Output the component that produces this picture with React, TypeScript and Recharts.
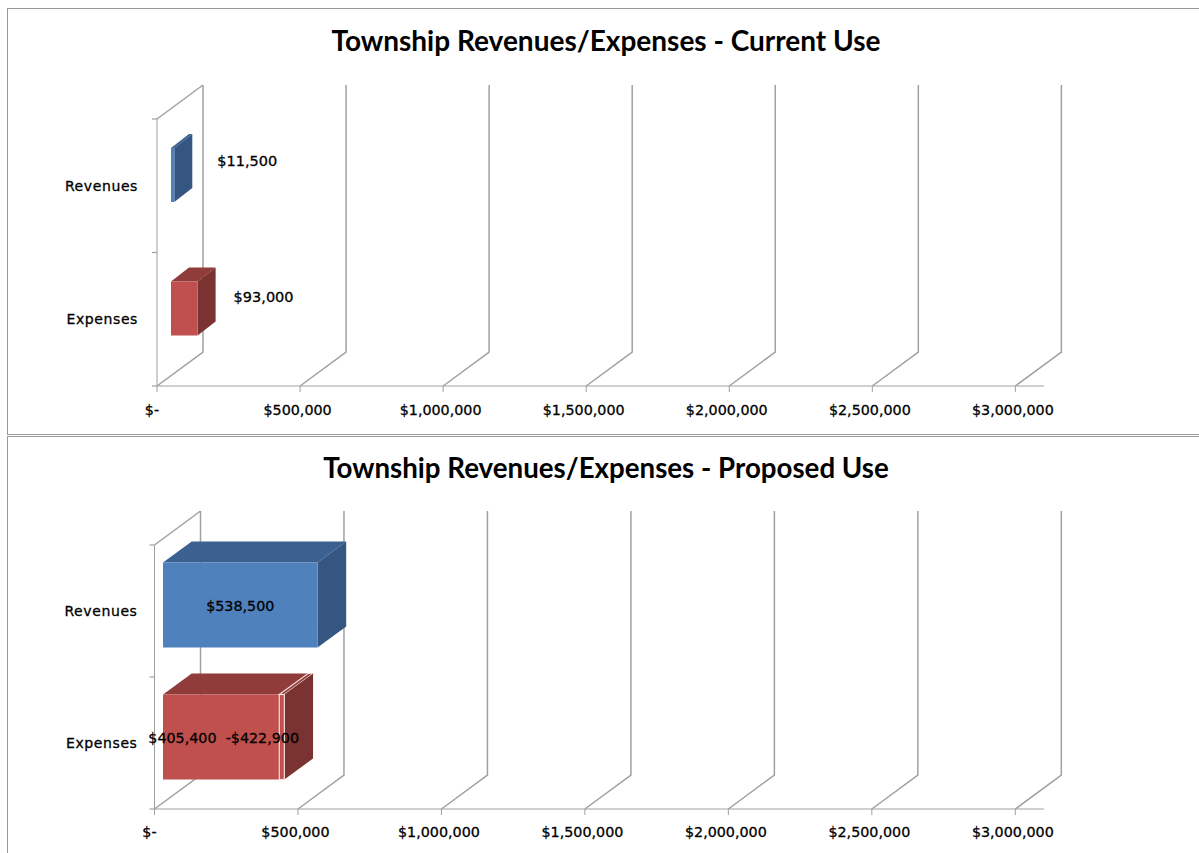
import React from 'react';
import { BarChart, Bar, XAxis, YAxis, CartesianGrid, LabelList } from 'recharts';

const categories = ['Revenues', 'Expenses'];
const currentValues = [11500, 93000];
const currentLabels = ['$11,500', '$93,000'];
const proposedValues = [538500, 405400];
const proposedExtra = [0, 17500];
const proposedLabels = ['$538,500', '$405,400  -$422,900'];
const xTicks = [0, 500000, 1000000, 1500000, 2000000, 2500000, 3000000];
const xTickLabels = ['$-', '$500,000', '$1,000,000', '$1,500,000', '$2,000,000', '$2,500,000', '$3,000,000'];

const currentRows = categories.map((category, i) => ({ category, value: currentValues[i], label: currentLabels[i] }));
const proposedRows = categories.map((category, i) => ({
  category,
  value: proposedValues[i],
  extra: proposedExtra[i],
  label: proposedLabels[i],
}));

const GRID = '#a0a0a0';
const FONT = '"DejaVu Sans", sans-serif';
const FACES = [
  { front: '#4f81bd', top: '#3b6190', side: '#345680' },
  { front: '#c0504d', top: '#8f3c3a', side: '#7a3331' },
];
const WALL_X = 46;
const WALL_Y = 34;
// blurry scan look: text is slightly heavier than the regular weight
const TEXT = { fontFamily: FONT, fill: '#000', stroke: '#000', strokeWidth: 0.3 };

const makeBox = (sx: number, sy: number, dx: number, dy: number, outline?: string) => (p: any) => {
  const { x, y, width, height, index } = p;
  if (!width || width <= 0) return <g />;
  const c = FACES[index];
  const l = x + sx;
  const t = y + sy;
  const r = l + width;
  const b = t + height;
  const edge = outline ? { stroke: outline, strokeWidth: 1.2 } : {};
  return (
    <g>
      <polygon points={`${l},${t} ${l + dx},${t - dy} ${r + dx},${t - dy} ${r},${t}`} fill={c.top} {...edge} />
      <polygon points={`${r},${t} ${r + dx},${t - dy} ${r + dx},${b - dy} ${r},${b}`} fill={c.side} />
      <rect x={l} y={t} width={width} height={height} fill={c.front} {...edge} />
    </g>
  );
};

const wallLine = (p: any) => {
  const { x1, y1, y2, index } = p;
  if (index >= xTicks.length) return <g key={p.key} />;
  const top = Math.min(y1, y2);
  const bottom = Math.max(y1, y2);
  return (
    <g key={p.key}>
      <path
        d={`M${x1},${bottom} L${x1 + WALL_X},${bottom - WALL_Y} L${x1 + WALL_X},${top - WALL_Y}`}
        fill="none"
        stroke={GRID}
        strokeWidth={1.5}
      />
      {index === 0 && (
        <line x1={x1} y1={top} x2={x1 + WALL_X} y2={top - WALL_Y} stroke={GRID} strokeWidth={1.5} />
      )}
    </g>
  );
};

const categoryTick = (p: any) => (
  <line key={p.key} x1={p.x1 - 5} y1={p.y1} x2={p.x1} y2={p.y1} stroke={GRID} strokeWidth={1.2} />
);

const XTick = ({ x, y, index }: any) => (
  <text x={x - (index === 0 ? 5 : 2.5)} y={y} textAnchor="middle" dominantBaseline="central" fontSize={14.3} {...TEXT}>
    {xTickLabels[index]}
  </text>
);

const sideLabel = (nudge: number[][]) => (p: any) => {
  const { x, y, width, height, value, index } = p;
  return (
    <text
      x={x + width + nudge[index][0]}
      y={y + height / 2 + nudge[index][1]}
      dominantBaseline="central"
      fontSize={14.5}
      {...TEXT}
    >
      {value}
    </text>
  );
};

const insideLabel = (left: number, sx: number, nudgeY: number) => (p: any) => {
  const { x, y, width, height, value } = p;
  return (
    <text
      x={left + sx + (x + width - left) / 2}
      y={y + height / 2 + nudgeY}
      textAnchor="middle"
      dominantBaseline="central"
      fontSize={14.3}
      {...TEXT}
      style={{ whiteSpace: 'pre' }}
    >
      {value}
    </text>
  );
};

const rowLines = ({ offset }: any) => [offset.top, offset.top + offset.height / 2, offset.top + offset.height];

const Frame = ({ top, height, title, titleSize, children }: any) => (
  <div
    style={{
      position: 'absolute',
      left: 7,
      top,
      width: 1192,
      height,
      boxSizing: 'border-box',
      border: '1px solid #999',
      borderRightWidth: 0,
    }}
  >
    <div
      style={{
        position: 'absolute',
        left: 5,
        right: 0,
        top: 14,
        textAlign: 'center',
        fontFamily: 'Lato, sans-serif',
        fontWeight: 700,
        fontSize: titleSize,
        lineHeight: '34px',
        color: '#000',
      }}
    >
      {title}
    </div>
    {children}
  </div>
);

const App = () => (
  <div style={{ position: 'absolute', left: 0, top: 0, width: 1199, height: 853, overflow: 'hidden', background: '#fff' }}>
    <Frame top={8} height={427} titleSize={28} title="Township Revenues/Expenses - Current Use">
      <div style={{ position: 'absolute', left: -8, top: 0 }}>
        <BarChart
          width={1199}
          height={426}
          data={currentRows}
          layout="vertical"
          margin={{ top: 110, right: 155, bottom: 0, left: 0 }}
          barSize={54}
        >
          <CartesianGrid
            horizontal={categoryTick}
            vertical={wallLine}
            horizontalCoordinatesGenerator={rowLines}
          />
          <XAxis
            type="number"
            domain={[0, 3100000]}
            ticks={xTicks}
            interval={0}
            height={49}
            tickSize={6}
            tickMargin={18}
            stroke={GRID}
            tick={<XTick />}
          />
          <YAxis
            type="category"
            dataKey="category"
            width={157}
            tickLine={false}
            tickSize={0}
            tickMargin={19}
            stroke={GRID}
            tick={{ ...TEXT, fontSize: 14, letterSpacing: 0.6 }}
          />
          <Bar dataKey="value" isAnimationActive={false} shape={makeBox(14, -11, 18, 14)}>
            <LabelList dataKey="label" content={sideLabel([[57, -25], [50, -22.5]])} />
          </Bar>
        </BarChart>
      </div>
    </Frame>
    <Frame top={436} height={430} titleSize={27.7} title="Township Revenues/Expenses - Proposed Use">
      <div style={{ position: 'absolute', left: -8, top: 0 }}>
        <BarChart
          width={1199}
          height={417}
          data={proposedRows}
          layout="vertical"
          margin={{ top: 108, right: 155, bottom: 0, left: 0 }}
          barSize={85}
        >
          <CartesianGrid
            horizontal={categoryTick}
            vertical={wallLine}
            horizontalCoordinatesGenerator={rowLines}
          />
          <XAxis
            type="number"
            domain={[0, 3100000]}
            ticks={xTicks}
            interval={0}
            height={45}
            tickSize={6}
            tickMargin={17}
            stroke={GRID}
            tick={<XTick />}
          />
          <YAxis
            type="category"
            dataKey="category"
            width={154.5}
            tickLine={false}
            tickSize={0}
            tickMargin={17}
            stroke={GRID}
            tick={{ ...TEXT, fontSize: 14, letterSpacing: 0.6 }}
          />
          <Bar dataKey="value" stackId="a" isAnimationActive={false} shape={makeBox(8.5, -6.5, 28.7, 21)} />
          <Bar dataKey="extra" stackId="a" isAnimationActive={false} shape={makeBox(8.5, -6.5, 28.7, 21, '#f3dedd')}>
            <LabelList dataKey="label" content={insideLabel(154.5, 8.5, -5.5)} />
          </Bar>
        </BarChart>
      </div>
    </Frame>
  </div>
);

export default App;
